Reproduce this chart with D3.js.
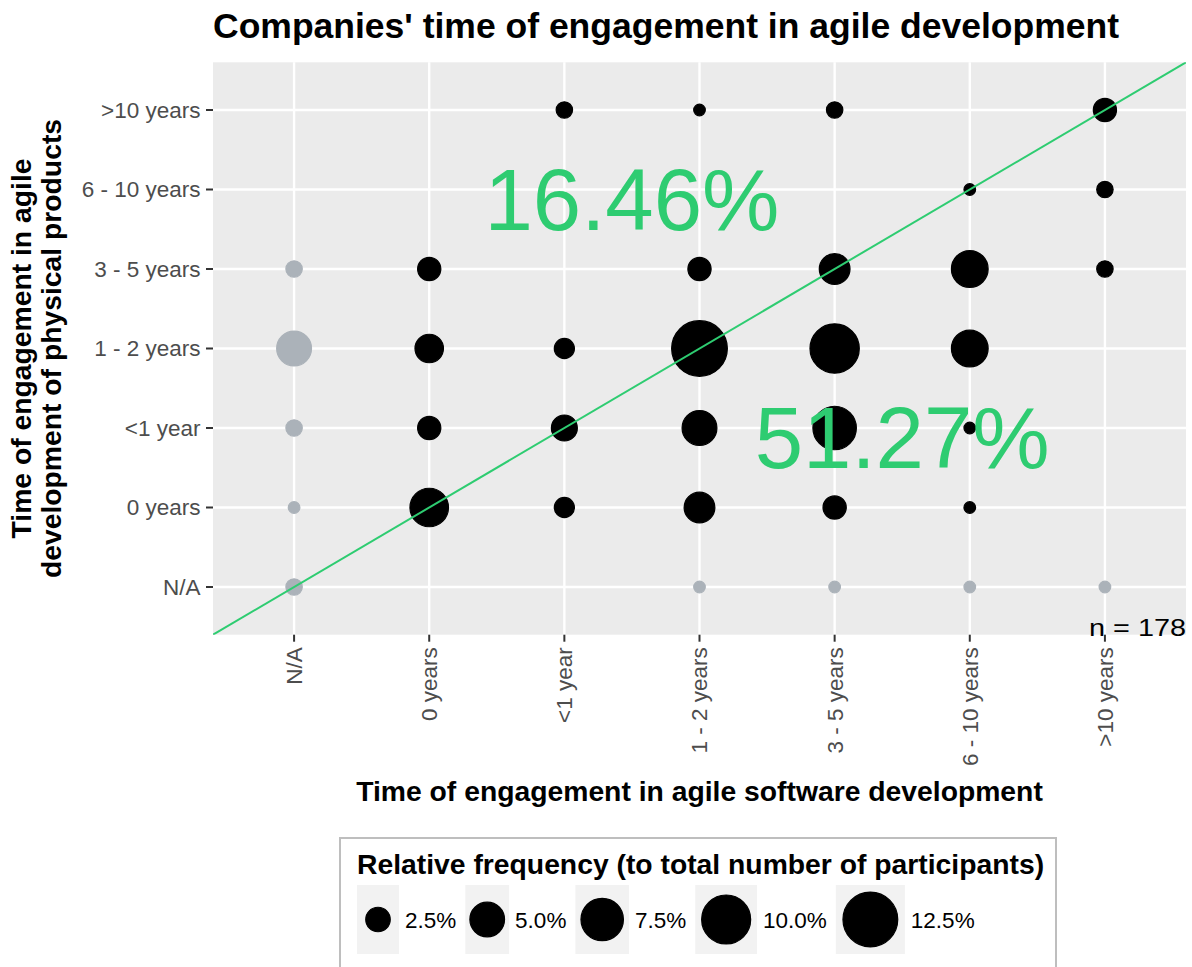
<!DOCTYPE html>
<html>
<head>
<meta charset="utf-8">
<script src="https://cdn.jsdelivr.net/npm/d3@7"></script>
<style>
  body { margin: 0; background: #fff; }
  svg { display: block; font-family: "Liberation Sans", Arial, sans-serif; }
</style>
</head>
<body>
<svg id="chart" width="1192" height="967"></svg>
<script>
// time categories, used on both axes
var levels = ["N/A", "0 years", "<1 year", "1 - 2 years", "3 - 5 years", "6 - 10 years", ">10 years"];

// number of companies per cell, one array per row (physical products),
// each value matches the software column in `levels`
var physGt10  = [0, 0, 2, 1, 2, 0, 4];
var phys6to10 = [0, 0, 0, 0, 0, 1, 2];
var phys3to5  = [2, 4, 0, 4, 7, 10, 2];
var phys1to2  = [9, 6, 3, 23, 18, 10, 0];
var physLt1   = [2, 4, 5, 9, 14, 1, 0];
var phys0     = [1, 11, 3, 7, 4, 1, 0];
var physNA    = [2, 0, 0, 1, 1, 1, 1];

var rows = { ">10 years": physGt10, "6 - 10 years": phys6to10, "3 - 5 years": phys3to5,
             "1 - 2 years": phys1to2, "<1 year": physLt1, "0 years": phys0, "N/A": physNA };

var legendValues = [2.5, 5.0, 7.5, 10.0, 12.5];

// flatten into points
var points = [];
levels.forEach(function (py, yi) {
    rows[py].forEach(function (c, xi) {
        if (c > 0) points.push({ sw: levels[xi], phys: py, xi: xi, yi: yi, count: c });
    });
});
var n = d3.sum(points, function (d) { return d.count; });
points.forEach(function (d) { d.rel = d.count / n * 100; });

// share above / below the diagonal (N/A excluded)
var known = points.filter(function (d) { return d.xi > 0 && d.yi > 0; });
var knownN = d3.sum(known, function (d) { return d.count; });
var above = d3.sum(known.filter(function (d) { return d.yi > d.xi; }), function (d) { return d.count; });
var below = d3.sum(known.filter(function (d) { return d.yi < d.xi; }), function (d) { return d.count; });

var svg = d3.select("#chart");
var font = 22.5;
var green = "#2ECC71", grey = "#ABB2B9";

// panel
var pLeft = 213, pRight = 1186, pTop = 62.3, pBottom = 634.7;

var x = d3.scalePoint().domain(levels).range([pLeft, pRight]).padding(0.6);
var y = d3.scalePoint().domain(levels).range([pBottom, pTop]).padding(0.6);
var size = d3.scaleSqrt().domain([0, 12.5]).range([0, 54.8]);

// index scales for the diagonal
var xIdx = d3.scaleLinear().domain([-0.6, levels.length - 0.4]).range([pLeft, pRight]);
var yIdx = d3.scaleLinear().domain([-0.6, levels.length - 0.4]).range([pBottom, pTop]);

svg.append("defs").append("clipPath").attr("id", "clip")
    .append("rect").attr("x", pLeft).attr("y", pTop)
    .attr("width", pRight - pLeft).attr("height", pBottom - pTop);

svg.append("rect")
    .attr("x", pLeft).attr("y", pTop)
    .attr("width", pRight - pLeft).attr("height", pBottom - pTop)
    .attr("fill", "#EBEBEB");

// grid
svg.append("g").selectAll("line").data(levels).enter().append("line")
    .attr("x1", function (d) { return x(d); }).attr("x2", function (d) { return x(d); })
    .attr("y1", pTop).attr("y2", pBottom)
    .attr("stroke", "#fff").attr("stroke-width", 2.4);
svg.append("g").selectAll("line").data(levels).enter().append("line")
    .attr("y1", function (d) { return y(d); }).attr("y2", function (d) { return y(d); })
    .attr("x1", pLeft).attr("x2", pRight)
    .attr("stroke", "#fff").attr("stroke-width", 2.4);

// points
svg.append("g").selectAll("circle").data(points).enter().append("circle")
    .attr("cx", function (d) { return x(d.sw); })
    .attr("cy", function (d) { return y(d.phys); })
    .attr("r", function (d) { return size(d.rel) / 2; })
    .attr("fill", function (d) { return (d.xi == 0 || d.yi == 0) ? grey : "#000"; })
    .attr("stroke", function (d) { return (d.xi == 0 || d.yi == 0) ? grey : "#000"; })
    .attr("stroke-width", 1.2);

// diagonal
svg.append("line")
    .attr("clip-path", "url(#clip)")
    .attr("x1", xIdx(-1)).attr("y1", yIdx(-1))
    .attr("x2", xIdx(levels.length)).attr("y2", yIdx(levels.length))
    .attr("stroke", green).attr("stroke-width", 2);

// big percentages
var bigSize = 87;
svg.append("text")
    .attr("x", (x("<1 year") + x("1 - 2 years")) / 2)
    .attr("y", y("6 - 10 years") + 40)
    .attr("text-anchor", "middle").attr("font-size", bigSize).attr("fill", green)
    .text((above / knownN * 100).toFixed(2) + "%");
svg.append("text")
    .attr("x", (x("3 - 5 years") + x("6 - 10 years")) / 2)
    .attr("y", y("<1 year") + 40)
    .attr("text-anchor", "middle").attr("font-size", bigSize).attr("fill", green)
    .text((below / knownN * 100).toFixed(2) + "%");

// n label
svg.append("text")
    .attr("x", pRight).attr("y", 636)
    .attr("text-anchor", "end").attr("font-size", 24)
    .attr("textLength", 97).attr("lengthAdjust", "spacingAndGlyphs")
    .text("n = " + n);

// ticks
svg.append("g").selectAll("line").data(levels).enter().append("line")
    .attr("x1", function (d) { return x(d); }).attr("x2", function (d) { return x(d); })
    .attr("y1", pBottom).attr("y2", pBottom + 7)
    .attr("stroke", "#333").attr("stroke-width", 2);
svg.append("g").selectAll("line").data(levels).enter().append("line")
    .attr("y1", function (d) { return y(d); }).attr("y2", function (d) { return y(d); })
    .attr("x1", pLeft - 7).attr("x2", pLeft)
    .attr("stroke", "#333").attr("stroke-width", 2);

// tick labels
svg.append("g").selectAll("text").data(levels).enter().append("text")
    .attr("transform", function (d) { return "translate(" + x(d) + "," + (pBottom + 12.5) + ") rotate(-90)"; })
    .attr("dy", "0.35em")
    .attr("text-anchor", "end").attr("font-size", font).attr("fill", "#4D4D4D")
    .text(function (d) { return d; });
svg.append("g").selectAll("text").data(levels).enter().append("text")
    .attr("x", pLeft - 12.5).attr("y", function (d) { return y(d); })
    .attr("dy", "0.35em")
    .attr("text-anchor", "end").attr("font-size", font).attr("fill", "#4D4D4D")
    .text(function (d) { return d; });

// titles
svg.append("text")
    .attr("x", pLeft).attr("y", 38)
    .attr("font-size", 35.5).attr("font-weight", "bold")
    .text("Companies' time of engagement in agile development");
svg.append("text")
    .attr("x", (pLeft + pRight) / 2).attr("y", 801)
    .attr("text-anchor", "middle").attr("font-size", 28.3).attr("font-weight", "bold")
    .text("Time of engagement in agile software development");
var yt = svg.append("text")
    .attr("transform", "translate(31," + (pTop + pBottom) / 2 + ") rotate(-90)")
    .attr("text-anchor", "middle").attr("font-size", 28.3).attr("font-weight", "bold");
yt.append("tspan").attr("x", 0).attr("y", 0).text("Time of engagement in agile");
yt.append("tspan").attr("x", 0).attr("y", 30).text("development of physical products");

// legend
var lg = svg.append("g");
lg.append("rect")
    .attr("x", 340).attr("y", 838).attr("width", 716).attr("height", 160)
    .attr("fill", "#fff").attr("stroke", "#BEBEBE").attr("stroke-width", 2);
lg.append("text")
    .attr("x", 357).attr("y", 874)
    .attr("font-size", 28.3).attr("font-weight", "bold")
    .text("Relative frequency (to total number of participants)");

var keyTop = 885, keyH = 69;
var cx = 357;
legendValues.forEach(function (v) {
    var d = size(v) + 1.2;
    var kw = Math.max(42, 1.25 * d - 1);
    lg.append("rect")
        .attr("x", cx).attr("y", keyTop).attr("width", kw).attr("height", keyH)
        .attr("fill", "#F2F2F2");
    lg.append("circle")
        .attr("cx", cx + kw / 2).attr("cy", keyTop + keyH / 2)
        .attr("r", size(v) / 2)
        .attr("fill", "#000").attr("stroke", "#000").attr("stroke-width", 1.2);
    var t = lg.append("text")
        .attr("x", cx + kw + 6).attr("y", keyTop + keyH / 2)
        .attr("dy", "0.36em").attr("font-size", font)
        .text(v.toFixed(1) + "%");
    cx = cx + kw + 6 + t.node().getComputedTextLength() + 9;
});
</script>
</body>
</html>
